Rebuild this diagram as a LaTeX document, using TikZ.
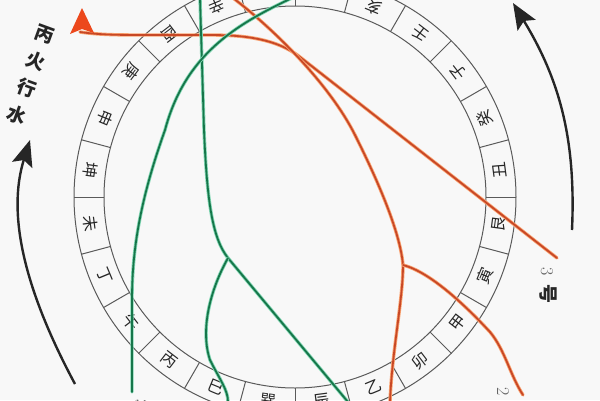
\documentclass[tikz,border=0pt]{standalone}
\usepackage{fontspec}
\newfontfamily\cjk{Noto Sans CJK SC}
\usetikzlibrary{arrows.meta}
\definecolor{bg}{RGB}{248,248,248}
\definecolor{ringc}{RGB}{90,90,90}
\definecolor{ocore}{RGB}{200,72,38}
\definecolor{oglow}{RGB}{250,165,115}
\definecolor{gcore}{RGB}{22,118,74}
\definecolor{gglow}{RGB}{130,215,180}
\definecolor{ored}{RGB}{236,72,28}
\begin{document}
\begin{tikzpicture}[x=1pt,y=-1pt,
  ringline/.style={draw=ringc, line width=1pt},
  boxlabel/.style={font=\cjk\fontsize{16}{16}\selectfont, text=black!85, inner sep=0pt},
  oline/.style={draw=ocore, line width=1.8pt, line cap=round, preaction={draw=oglow, line width=3.4pt, line cap=round}},
  gline/.style={draw=gcore, line width=1.8pt, line cap=round, preaction={draw=gglow, line width=3.4pt, line cap=round}},
  bigarrow/.style={draw=black!85, line width=2.4pt, -{Stealth[length=26pt,width=21pt,inset=5pt]}},
  sidetext/.style={font=\cjk\bfseries\fontsize{19}{19}\selectfont, text=black!85, inner sep=0pt},
  numlabel/.style={font=\fontsize{18}{18}\selectfont, text=black!60, inner sep=0pt},
  haolabel/.style={font=\cjk\bfseries\fontsize{19}{19}\selectfont, text=black!85, inner sep=0pt}
]
\fill[bg] (0,0) rectangle (600,400);
\useasboundingbox (0,0) rectangle (600,400);
\clip (0,0) rectangle (600,400);

% ring of 24 mountains
\begin{scope}[shift={(295,197)}]
  \draw[ringline] (0,0) circle[radius=191];
  \draw[ringline] (0,0) circle[radius=221];
  \foreach \k in {0,...,23} \draw[ringline] (15*\k:191) -- (15*\k:221);
  \foreach \a/\t/\n in {7.5/艮/a,22.5/寅/b,37.5/甲/c,52.5/卯/d,67.5/乙/e,82.5/辰/f,97.5/巽/g,112.5/巳/h,127.5/丙/i,142.5/午/j,157.5/丁/k,172.5/未/l,187.5/坤/m,202.5/申/n,217.5/庚/o,232.5/酉/p,247.5/辛/q,262.5/戌/r,277.5/乾/s,292.5/亥/t,307.5/壬/u,322.5/子/v,337.5/癸/w,352.5/丑/x}
    \node[boxlabel, rotate={90-\a}] (lab\n) at (\a:206) {\t};
\end{scope}

% side arrows
\coordinate (la0) at (75,384);
\coordinate (la1) at (30,140);
\draw[bigarrow] (la0) .. controls (30,300) and (5,220) .. (la1);
\coordinate (ra0) at (572,230);
\coordinate (ra1) at (513,3);
\draw[bigarrow] (ra0) .. controls (576,140) and (560,80) .. (ra1);

% side text
\node[sidetext, rotate=-20] (s1) at (45,34) {丙};
\node[sidetext, rotate=-20] (s2) at (36,61) {火};
\node[sidetext, rotate=-20] (s3) at (27,88) {行};
\node[sidetext, rotate=-20] (s4) at (17,115) {水};

% orange lines
\coordinate (aS) at (80,32);
\coordinate (aE) at (557,258);
\draw[oline] (aS) .. controls (100,35) and (120,35) .. (150,35) -- (210,35)
  .. controls (245,35) and (277,39) .. (300,57) -- (aE);
\coordinate (bS) at (233,-2);
\coordinate (bJ) at (403,265);
\coordinate (bE) at (390,402);
\coordinate (cE) at (523,395);
\draw[oline] (bS) .. controls (275,30) and (330,85) .. (355,135)
  .. controls (375,175) and (400,230) .. (bJ)
  .. controls (403,300) and (392,350) .. (bE);
\draw[oline] (bJ) .. controls (430,272) and (465,305) .. (490,332)
  .. controls (505,350) and (510,375) .. (cE);
\fill[ored] (70,34) -- (82,8) -- (94,33) -- (82,29) -- cycle;

% green lines
\coordinate (g1S) at (200,-2);
\coordinate (gJ) at (228,258);
\coordinate (g1E) at (348,402);
\coordinate (g2E) at (228,402);
\draw[gline] (g1S) -- (204,130) .. controls (207,200) and (212,238) .. (gJ) -- (g1E);
\draw[gline] (gJ) .. controls (210,290) and (200,330) .. (210,360)
  .. controls (220,380) and (228,390) .. (g2E);
\coordinate (g3S) at (292,-2);
\coordinate (g3E) at (132,392);
\draw[gline] (g3S) .. controls (235,25) and (185,55) .. (165,130)
  .. controls (140,200) and (132,250) .. (132,300) -- (g3E);

% line labels
\node[numlabel, rotate=-90] (n3a) at (547,272) {3};
\node[haolabel, rotate=-90] (hao) at (548,294) {号};
\node[numlabel, rotate=-90] (n2) at (503,392) {2};
\node[numlabel, rotate=-90] (n3b) at (141,404) {3};
\end{tikzpicture}
\end{document}
